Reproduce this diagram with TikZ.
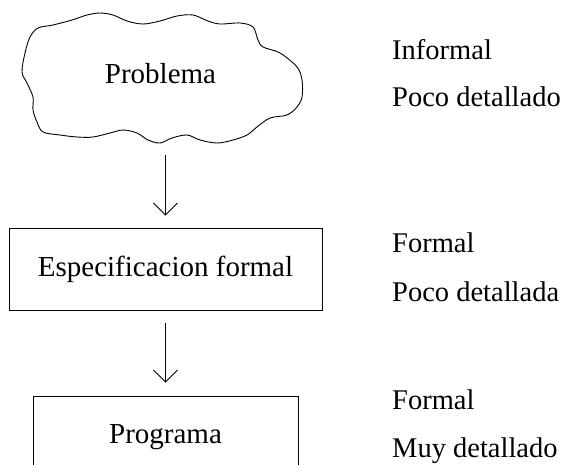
\documentclass[tikz,border=0pt]{standalone}
\usepackage{fontspec}
\setmainfont{Liberation Serif}
\usetikzlibrary{arrows.meta}
\tikzset{
  lbl/.style={anchor=base west, inner sep=0pt, font=\fontsize{28.5}{33}\selectfont},
  boxtxt/.style={font=\fontsize{29}{33}\selectfont},
  stagebox/.style={draw, line width=0.9pt, boxtxt},
  arr/.style={line width=0.9pt, -{Straight Barb[length=12pt,width=24pt]}},
}
\begin{document}
\begin{tikzpicture}[x=1pt,y=-1pt]
\clip (0,0) rectangle (564,464);
\fill[white] (0,0) rectangle (564,464);
% cloud outline
\draw[line width=0.9pt] plot[smooth cycle, tension=0.55] coordinates {
 (22,72) (25,53) (30,37) (38,28) (53,25) (72,20) (87,15) (100,13) (113,15)
 (127,21) (143,24) (160,21) (177,16) (193,15) (208,21) (220,24) (240,23)
 (253,27) (258,40) (263,47) (280,53) (297,67) (302,80) (302,97) (297,107)
 (287,115) (270,118) (257,127) (247,135) (233,140) (217,143) (200,140)
 (187,135) (172,138) (160,143) (148,140) (137,133) (123,130) (110,133)
 (93,137) (77,137) (60,135) (43,132) (37,122) (33,110) (33,97) (27,83)};
\node[minimum width=280pt, minimum height=130pt, inner sep=0pt] (cloud) at (162,78) {};
\node[boxtxt, anchor=base, inner sep=0pt] (prob) at (160.5,83) {Problema};
\node[stagebox, minimum width=313pt, minimum height=82pt] (spec) at (165.5,269) {Especificacion formal};
\node[stagebox, minimum width=265pt, minimum height=82pt] (prog) at (165.5,437) {Programa};
\draw[arr, shorten <=12pt, shorten >=12pt] (cloud.south -| spec.north) -- (spec.north);
\draw[arr, shorten <=13pt, shorten >=13pt] (spec.south) -- (prog.north);
\node[lbl] (l1) at (392,59) {Informal};
\node[lbl] (l2) at (392,106) {Poco detallado};
\node[lbl] (l3) at (392,252) {Formal};
\node[lbl] (l4) at (392,301) {Poco detallada};
\node[lbl] (l5) at (392,409) {Formal};
\node[lbl] (l6) at (392,457) {Muy detallado};
\end{tikzpicture}
\end{document}
